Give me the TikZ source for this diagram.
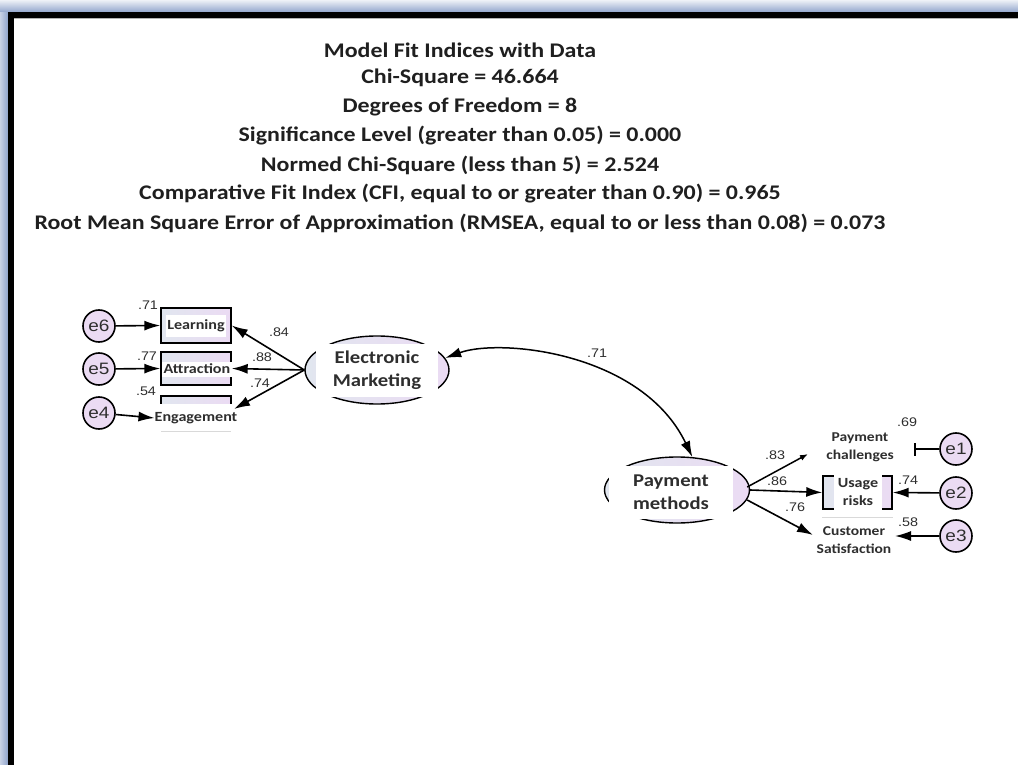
\documentclass[tikz,border=0pt]{standalone}
\usepackage{fontspec}
\setmainfont{Carlito}[FakeStretch=1.15]
\newfontfamily\arialf{Liberation Sans}[FakeStretch=1.15]
\usetikzlibrary{arrows.meta,shapes.geometric,calc}

\definecolor{lav}{HTML}{EBDBF3}
\definecolor{bluegray}{HTML}{E1E6EF}
\definecolor{txt}{HTML}{2E2E2E}
\definecolor{frameA}{HTML}{EEF1F7}
\definecolor{frameB}{HTML}{8FA3CB}

\begin{document}
\begin{tikzpicture}[x=1pt,y=-1pt,
  num/.style={font=\arialf\fontsize{12.5}{12.5}\selectfont, text=txt, inner sep=0pt},
  obsbox/.style={draw=black, line width=1.4pt, left color=bluegray, right color=lav,
    minimum width=70pt, inner sep=0pt},
  cover/.style={fill=white, inner sep=0pt, align=center, text=txt,
    font=\bfseries\fontsize{14}{18}\selectfont},
  bigcover/.style={cover, font=\bfseries\fontsize{18}{23}\selectfont},
  latent/.style={ellipse, draw=black, line width=1.4pt, left color=bluegray,
    right color=lav, inner sep=0pt},
  errc/.style={circle, draw=black, line width=1.6pt, fill=lav, minimum size=32pt,
    inner sep=0pt, text=txt, font=\arialf\fontsize{16.5}{16.5}\selectfont},
  reg/.style={line width=1.6pt, -{Latex[length=16pt,width=10pt]}},
  heading/.style={font=\bfseries\fontsize{20.8}{25}\selectfont, text=black!88, inner sep=0pt}
]
\useasboundingbox (0,0) rectangle (1018,765);

% window frame
\fill[top color=frameA, bottom color=frameB] (0,0) rectangle (1018,12.5);
\fill[left color=frameA!60!frameB, right color=frameB] (0,12.5) rectangle (8,765);
\fill[black] (8,12.5) rectangle (1018,18);
\fill[black] (8,12.5) rectangle (14,765);
\draw[gray!60, line width=0.6pt] (14,18.5) -- (1018,18.5);

% fit indices
\node[heading] (t1) at (460,50)  {Model Fit Indices with Data};
\node[heading] (t2) at (460,78)  {Chi-Square = 46.664};
\node[heading] (t3) at (460,107) {Degrees of Freedom = 8};
\node[heading] (t4) at (460,136) {Significance Level (greater than 0.05) = 0.000};
\node[heading] (t5) at (460,165) {Normed Chi-Square (less than 5) = 2.524};
\node[heading] (t6) at (460,194) {Comparative Fit Index (CFI, equal to or greater than 0.90) = 0.965};
\node[heading] (t7) at (460,223) {Root Mean Square Error of Approximation (RMSEA, equal to or less than 0.08) = 0.073};

% ---------- Electronic Marketing block ----------
\node[obsbox, minimum height=35pt] (L) at (196,325.5) {};
\node[obsbox, minimum height=33pt] (A) at (196,368.5) {};
\node[obsbox, minimum height=35pt] (E) at (196,413.5) {};
\node[cover, minimum width=60pt, minimum height=22pt] (Lt) at (196,326) {Learning};
\node[cover, minimum width=70pt, minimum height=15pt] (At) at (197,369) {Attraction};
\node[cover, minimum width=78pt, minimum height=28pt] (Et) at (196,418) {Engagement};
\draw[gray!30, line width=1pt] (161,431) -- (231,431);

\node[errc] (e6) at (99,326) {e6};
\node[errc] (e5) at (99,369) {e5};
\node[errc] (e4) at (99,413) {e4};
\draw[reg] (e6) -- (L.west);
\draw[reg] (e5) -- (A.west);
\draw[reg] (e4) -- (Et.west);
\node[num] (n71a) at (148,305) {.71};
\node[num] (n77) at (147,356) {.77};
\node[num] (n54) at (146,391) {.54};

\node[latent, minimum width=144pt, minimum height=68pt] (EM) at (377,370) {};
\node[bigcover, minimum width=122pt, minimum height=53pt] (EMt) at (377,370.5) {Electronic\\Marketing};
\coordinate (Ein) at (234,409);
\draw[reg] (EM.west) -- (L.east);
\draw[reg] (EM.west) -- (A.east);
\draw[reg] (EM.west) -- (Ein);
\node[num] (n84) at (279,332) {.84};
\node[num] (n88) at (262,357) {.88};
\node[num] (n74a) at (260,383) {.74};

% ---------- Payment methods block ----------
\node[latent, minimum width=145pt, minimum height=66pt] (PM) at (677,490) {};
\node[bigcover, minimum width=124pt, minimum height=53pt] (PMt) at (671,492) {Payment\\methods};

% covariance
\draw[line width=1.5pt, {Latex[length=16pt,width=10pt]}-{Latex[length=16pt,width=10pt]}]
  (EM.10) .. controls (500,338) and (642,352) .. (PM.65);
\node[num] (n71b) at (597,353) {.71};

% indicators
\node[cover, font=\bfseries\fontsize{13.5}{18}\selectfont] (PC) at (860,447) {Payment\\challenges};
\node[obsbox, minimum width=69pt, minimum height=33pt] (U) at (857.5,492.5) {};
\node[cover, minimum width=48pt, minimum height=40pt] (Ut) at (858,492.5) {Usage\\risks};
\draw[gray!30, line width=1pt] (822,517) -- (893,517);
\node[cover, font=\bfseries\fontsize{13.5}{18}\selectfont] (CS) at (854,540) {Customer\\Satisfaction};

\coordinate (PCin) at (808,454);
\coordinate (CSin) at (813,535);
\draw[line width=1.5pt, -{Latex[length=8pt,width=6pt]}] (PM.east) ++(-3,-3) coordinate (PMa) (PMa) -- (PCin);
\draw[reg] (PM.east) -- (U.west);
\draw[reg] (PM.east) ++(-3,10) coordinate (PMc) (PMc) -- (CSin);
\node[num] (n83) at (775,455) {.83};
\node[num] (n86) at (777,481) {.86};
\node[num] (n76) at (795,507) {.76};

\node[errc] (e1) at (956,449) {e1};
\node[errc] (e2) at (956,493) {e2};
\node[errc] (e3) at (956,536) {e3};
\coordinate (e1end) at (914,449);
\draw[line width=1.5pt, -{Bar[width=13pt]}] (e1) -- (e1end);
\draw[reg] (e2) -- (U.east);
\coordinate (e3end) at (895,536);
\draw[reg] (e3) -- (e3end);
\node[num] (n69) at (907,422) {.69};
\node[num] (n74b) at (908,480) {.74};
\node[num] (n58) at (908,522) {.58};
\end{tikzpicture}
\end{document}
